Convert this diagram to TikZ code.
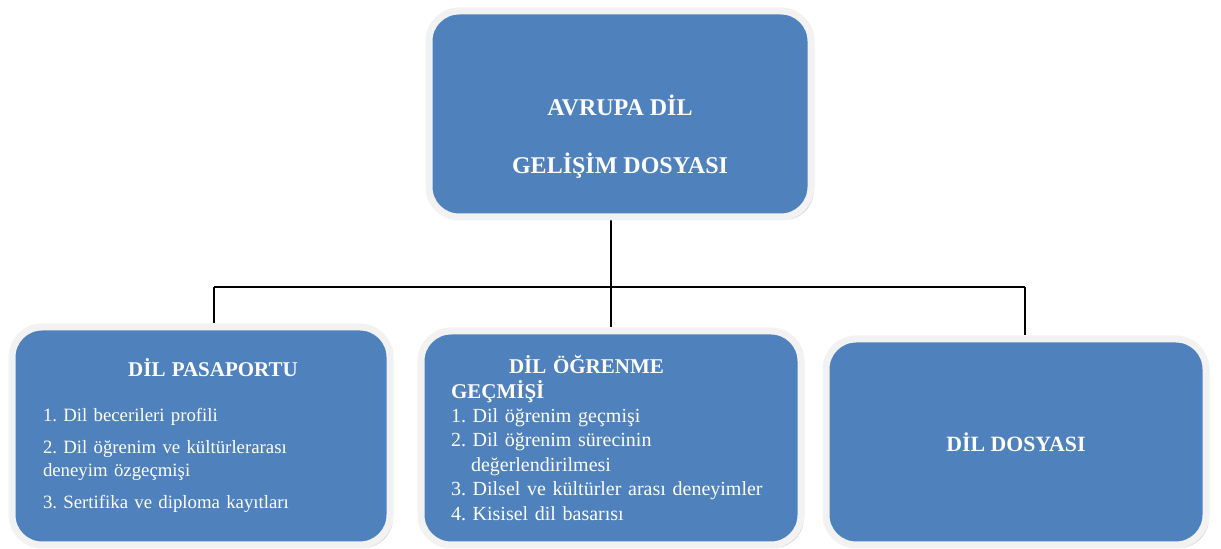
\documentclass[tikz,border=0pt]{standalone}
\usepackage{fontspec}
\setmainfont{Liberation Serif}
\usetikzlibrary{shadows,backgrounds}
\definecolor{boxblue}{HTML}{4F81BD}
\definecolor{boxrim}{HTML}{F2F2F2}

\begin{document}
\frenchspacing
\begin{tikzpicture}[x=0.5pt,y=-0.5pt]
		\begin{scope}
		
		\tikzstyle{mybox}=[rectangle,
		rounded corners=15pt,
		draw=boxrim,
		line width=3.5pt,
		fill=boxblue,
		text=white,
		drop shadow={shadow xshift=1.5pt, shadow yshift=-1.5pt, fill=black!35},
		inner sep=0pt
		]
		\tikzstyle{myline}=[black,
		line width=0.8pt
		]
		
		\useasboundingbox (0,0) rectangle (1221,549);
		
		\coordinate (ptop) at (620, 114);
		\coordinate (ppas) at (201, 436);
		\coordinate (pgec) at (611, 438);
		\coordinate (pdos) at (1016, 442);
		
		\coordinate (hub) at (611, 287);
		\coordinate (hl) at (214, 287);
		\coordinate (hr) at (1025, 287);
		
		\node[mybox, minimum width=191pt, minimum height=103pt, align=center,
			text height=60pt, text depth=0pt,
			font=\bfseries\fontsize{12}{29}\selectfont] (top) at (ptop)
			{AVRUPA DİL\\GELİŞİM DOSYASI};
		\node[mybox, minimum width=189pt, minimum height=109pt, text width=158pt, align=left,
			font=\fontsize{9.4}{11.5}\selectfont] (pas) at (ppas)
			{\makebox[\linewidth]{\hspace{12pt}\bfseries\fontsize{10.5}{11.5}\selectfont DİL PASAPORTU}\\[11pt]
			1. Dil becerileri profili\\[4.5pt]
			2. Dil öğrenim ve kültürlerarası\\
			deneyim özgeçmişi\\[4.5pt]
			3. Sertifika ve diploma kayıtları};
		\node[mybox, minimum width=190pt, minimum height=107pt, text width=160pt, align=left,
			font=\fontsize{10}{12.2}\selectfont] (gec) at (pgec)
			{\hspace*{29pt}\textbf{\fontsize{10.5}{12.2}\selectfont DİL ÖĞRENME}\\
			\textbf{\fontsize{10.5}{12.2}\selectfont GEÇMİŞİ}\\
			1. Dil öğrenim geçmişi\\
			2. Dil öğrenim sürecinin\\
			\hspace*{10pt}değerlendirilmesi\\
			3. Dilsel ve kültürler arası deneyimler\\
			4. Kisisel dil basarısı};
		\node[mybox, minimum width=190pt, minimum height=103pt,
			font=\bfseries\fontsize{10.9}{13}\selectfont] (dos) at (pdos) {DİL DOSYASI};
		
		\begin{pgfonlayer}{background}
		\draw[myline] (top.south -| hub) -- (hub);
		\draw[myline] (hl) -- (hr);
		\draw[myline] (hl) -- (hl |- pas.north);
		\draw[myline] (hub) -- (gec.north);
		\draw[myline] (hr) -- (hr |- dos.north);
		\end{pgfonlayer}
		
		\end{scope}
\end{tikzpicture}
\end{document}
